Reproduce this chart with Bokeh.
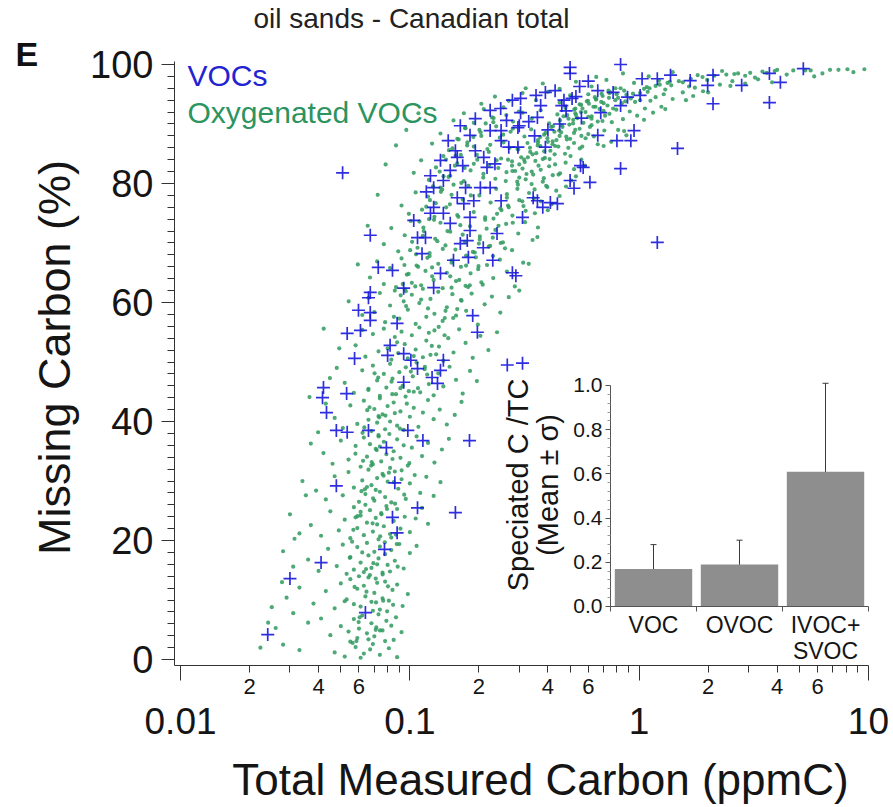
import math
from bokeh.plotting import figure
from bokeh.models import (LogAxis, LinearAxis, FixedTicker, Range1d, Label, Whisker,
                          TeeHead, ColumnDataSource, PrintfTickFormatter, LinearScale)
from bokeh.embed import file_html
from bokeh.resources import INLINE

FONT = "Liberation Sans"
INK = "#151515"

# ---------------- data: VOCs (blue crosses) ----------------
voc_x = [0.024, 0.030, 0.041, 0.064, 0.0775, 0.088, 0.084, 0.108, 0.158, 0.0478,
         0.086, 0.0478, 0.0533, 0.066, 0.079, 0.098, 0.114, 0.182, 0.0433, 0.0416,
         0.042, 0.053, 0.094, 0.125, 0.132, 0.266, 0.31, 0.0574, 0.080, 0.094,
         0.108, 0.140, 0.136, 0.101, 0.082, 0.0533, 0.0609, 0.088, 0.0672, 0.0672,
         0.0597, 0.066, 0.0672, 0.094, 0.0728, 0.084, 0.113, 0.0672, 0.108, 0.117,
         0.0509, 0.188, 0.197, 0.28, 0.29, 0.127, 0.136, 0.18, 0.23, 0.209,
         0.178, 0.24, 0.183, 0.15, 0.104, 0.123, 0.14, 0.127, 0.14, 0.161,
         0.19, 0.175, 0.224, 0.25, 0.345, 0.38, 0.217, 0.147, 0.224, 0.296,
         0.36, 0.25, 0.296, 0.118, 0.15, 0.172, 0.127, 0.161, 0.21, 0.235,
         0.203, 0.183, 0.166, 0.155, 0.31, 0.36, 0.41, 0.44, 0.50, 0.555,
         0.61, 0.52, 0.50, 0.50, 0.83, 1.03, 1.20, 1.37, 1.67, 2.1,
         1.99, 2.8, 2.1, 3.7, 4.13, 3.7, 5.2, 0.66, 0.77, 0.89,
         0.51, 0.47, 0.53, 0.46, 0.33, 0.30, 0.25, 0.27, 0.39, 0.95,
         0.66, 0.80, 0.92, 1.47, 0.57, 0.83, 1.20, 0.166, 0.193, 0.224,
         0.249, 0.28, 0.304, 0.355, 0.39, 0.43, 0.372, 0.304, 0.264, 0.183,
         0.158, 0.136, 0.123, 0.17, 0.193, 0.68, 0.83, 1.01, 0.55, 0.60,
         0.48, 0.56, 0.45, 0.40, 0.35]
voc_y = [4.2, 13.6, 16.3, 7.9, 18.5, 21.3, 23.9, 25.5, 24.7, 29.2,
         29.7, 38.5, 38.2, 38.5, 35.6, 38.5, 36.8, 36.8, 41.5, 44.0,
         45.7, 44.7, 46.6, 47.4, 46.4, 49.5, 49.8, 50.6, 51.1, 51.4,
         48.9, 50.3, 48.6, 50.3, 52.8, 54.8, 55.3, 56.5, 57.0, 58.3,
         58.7, 60.8, 61.7, 62.4, 65.9, 65.4, 68.2, 71.3, 70.9, 70.9,
         81.8, 57.8, 55.0, 65.0, 64.5, 62.5, 64.9, 67.6, 67.1, 69.2,
         70.4, 71.6, 72.1, 73.3, 73.8, 75.0, 75.0, 79.3, 80.5, 77.6,
         77.1, 79.3, 79.3, 77.1, 77.6, 76.0, 82.7, 87.2, 88.9, 89.4,
         91.1, 87.2, 86.1, 78.6, 82.2, 76.6, 76.0, 84.4, 84.4, 83.3,
         79.3, 74.3, 69.9, 67.1, 74.3, 77.1, 76.8, 76.6, 80.5, 83.0,
         80.2, 79.2, 99.5, 98.5, 100.0, 97.6, 97.6, 98.2, 97.3, 98.2,
         96.5, 96.5, 93.4, 98.5, 97.0, 93.6, 99.3, 95.6, 95.3, 94.5,
         94.3, 94.0, 94.6, 93.1, 90.4, 89.7, 88.9, 86.1, 86.1, 88.9,
         88.1, 87.2, 87.2, 85.9, 82.7, 82.5, 70.1, 89.7, 90.9, 92.3,
         92.6, 94.0, 94.3, 94.8, 95.3, 95.6, 93.1, 91.9, 90.6, 88.1,
         85.5, 83.9, 81.3, 83.0, 85.5, 91.9, 93.1, 94.8, 96.3, 97.2,
         92.2, 91.0, 90.0, 89.0, 88.0]

# ---------------- data: oxygenated VOCs (green dots) ----------------
ovoc_x = [
    0.047, 0.052, 0.058, 0.063, 0.069, 0.074, 0.081, 0.088, 0.055, 0.066, 0.078, 0.028, 0.033, 0.061,
    0.045, 0.050, 0.054, 0.057, 0.060, 0.062, 0.065, 0.068, 0.071, 0.073, 0.076, 0.079, 0.083, 0.087,
    0.092, 0.041, 0.026, 0.031, 0.036, 0.059, 0.070, 0.085,
    0.038, 0.043, 0.047, 0.050, 0.053, 0.055, 0.057, 0.059, 0.061, 0.063, 0.064, 0.066, 0.068, 0.070,
    0.072, 0.074, 0.076, 0.078, 0.081, 0.084, 0.088, 0.093, 0.098, 0.029, 0.033, 0.025, 0.060, 0.069,
    0.052, 0.071,
    0.036, 0.040, 0.044, 0.048, 0.051, 0.053, 0.055, 0.057, 0.059, 0.061, 0.063, 0.065, 0.066, 0.068,
    0.070, 0.072, 0.074, 0.076, 0.078, 0.080, 0.083, 0.086, 0.090, 0.094, 0.100, 0.107, 0.028, 0.031,
    0.056, 0.067, 0.073, 0.062,
    0.037, 0.041, 0.045, 0.049, 0.052, 0.055, 0.057, 0.059, 0.061, 0.063, 0.065, 0.067, 0.069, 0.071,
    0.073, 0.075, 0.077, 0.079, 0.082, 0.085, 0.088, 0.091, 0.095, 0.100, 0.106, 0.113, 0.120, 0.030,
    0.033, 0.064, 0.072, 0.083, 0.058,
    0.039, 0.043, 0.047, 0.051, 0.054, 0.057, 0.060, 0.062, 0.064, 0.066, 0.068, 0.070, 0.072, 0.074,
    0.076, 0.078, 0.080, 0.083, 0.086, 0.089, 0.092, 0.096, 0.100, 0.105, 0.111, 0.118, 0.127, 0.136,
    0.034, 0.071, 0.081, 0.065,
    0.042, 0.046, 0.050, 0.054, 0.058, 0.061, 0.063, 0.065, 0.067, 0.069, 0.071, 0.073, 0.075, 0.077,
    0.079, 0.082, 0.085, 0.088, 0.091, 0.094, 0.098, 0.102, 0.107, 0.113, 0.120, 0.128, 0.138, 0.148,
    0.037, 0.074, 0.084,
    0.047, 0.051, 0.055, 0.059, 0.063, 0.066, 0.068, 0.070, 0.072, 0.074, 0.076, 0.078, 0.080, 0.082,
    0.085, 0.088, 0.091, 0.094, 0.097, 0.100, 0.104, 0.109, 0.114, 0.120, 0.127, 0.135, 0.145, 0.157,
    0.168, 0.043, 0.086, 0.073,
    0.052, 0.057, 0.062, 0.066, 0.069, 0.072, 0.074, 0.077, 0.079, 0.082, 0.084, 0.087, 0.090, 0.093,
    0.096, 0.099, 0.103, 0.107, 0.111, 0.116, 0.121, 0.127, 0.133, 0.140, 0.149, 0.159, 0.170, 0.183,
    0.196, 0.048, 0.091, 0.101,
    0.058, 0.064, 0.069, 0.073, 0.077, 0.080, 0.083, 0.086, 0.089, 0.092, 0.095, 0.098, 0.102, 0.106,
    0.110, 0.114, 0.118, 0.123, 0.128, 0.134, 0.140, 0.147, 0.155, 0.164, 0.175, 0.188, 0.203, 0.220,
    0.240, 0.104, 0.121, 0.088, 0.062,
    0.062, 0.066, 0.070, 0.074, 0.078, 0.082, 0.086, 0.090, 0.094, 0.098, 0.102, 0.106, 0.110, 0.114,
    0.118, 0.123, 0.128, 0.133, 0.139, 0.145, 0.152, 0.159, 0.167, 0.176, 0.186, 0.198, 0.212, 0.228,
    0.248, 0.270, 0.120, 0.142, 0.096,
    0.067, 0.072, 0.077, 0.082, 0.087, 0.092, 0.097, 0.102, 0.107, 0.112, 0.117, 0.122, 0.127, 0.133,
    0.139, 0.145, 0.152, 0.159, 0.167, 0.175, 0.184, 0.194, 0.205, 0.217, 0.231, 0.247, 0.265, 0.287,
    0.312, 0.150, 0.125, 0.176, 0.095,
    0.077, 0.083, 0.089, 0.095, 0.101, 0.108, 0.115, 0.122, 0.129, 0.136, 0.143, 0.150, 0.158, 0.166,
    0.174, 0.183, 0.192, 0.202, 0.213, 0.224, 0.236, 0.249, 0.263, 0.279, 0.297, 0.318, 0.343, 0.362,
    0.200, 0.230, 0.170, 0.260,
    0.092, 0.099, 0.106, 0.113, 0.120, 0.128, 0.136, 0.144, 0.152, 0.161, 0.170, 0.180, 0.190, 0.201,
    0.213, 0.225, 0.238, 0.251, 0.265, 0.280, 0.296, 0.313, 0.331, 0.351, 0.373, 0.398, 0.415, 0.435,
    0.450, 0.270, 0.300, 0.240, 0.320, 0.350,
    0.104, 0.112, 0.121, 0.130, 0.140, 0.150, 0.161, 0.172, 0.184, 0.196, 0.209, 0.222, 0.236, 0.250,
    0.264, 0.279, 0.294, 0.310, 0.327, 0.345, 0.364, 0.384, 0.405, 0.428, 0.452, 0.478, 0.506, 0.520,
    0.560, 0.530, 0.300, 0.340, 0.380, 0.420, 0.280, 0.320,
    0.125, 0.136, 0.148, 0.161, 0.175, 0.190, 0.205, 0.221, 0.238, 0.256, 0.275, 0.295, 0.316, 0.338,
    0.361, 0.385, 0.410, 0.436, 0.463, 0.491, 0.520, 0.551, 0.584, 0.620, 0.660, 0.705, 0.755, 0.810,
    0.880, 0.400, 0.450, 0.500, 0.550, 0.430, 0.370, 0.600,
    0.155, 0.172, 0.190, 0.210, 0.232, 0.256, 0.282, 0.310, 0.340, 0.372, 0.405, 0.440, 0.477, 0.516,
    0.557, 0.600, 0.645, 0.692, 0.742, 0.795, 0.850, 0.910, 0.980, 1.06, 1.15, 1.25, 0.620, 0.700,
    0.530, 0.760,
    0.205, 0.235, 0.270, 0.310, 0.355, 0.400, 0.450, 0.500, 0.550, 0.600, 0.650, 0.700, 0.750, 0.810,
    0.870, 0.940, 1.01, 1.09, 1.18, 1.28, 1.40, 1.55, 1.72, 1.90, 0.880, 0.960, 1.12,
    0.320, 0.380, 0.450, 0.530, 0.620, 0.720, 0.830, 0.950, 1.08, 1.22, 1.38, 1.55, 1.75, 1.98,
    2.25, 2.55, 2.90, 3.30, 3.80, 1.30, 1.65,
    0.65, 0.85, 1.10, 1.40, 1.80, 2.30, 2.90, 3.60, 4.40, 5.30, 6.30, 7.40, 8.60, 9.60,
    5.80, 4.00, 3.20, 2.60,
    0.0585, 0.0712, 0.0644, 0.0803, 0.0567, 0.0691, 0.0778, 0.0625, 0.0862, 0.0735, 0.0659, 0.0921,
    0.0814, 0.0702, 0.0958, 0.0598, 0.0671, 0.0752, 0.0547, 0.0885, 0.0633, 0.0768, 0.0832, 0.0717,
    0.0615, 0.0905, 0.0796, 0.0688, 0.0574, 0.0741, 0.0652, 0.0869, 0.0995, 0.1040, 0.0728, 0.0610,
    0.0845, 0.0678, 0.0761, 0.0945,
    0.0852, 0.0931, 0.1003, 0.1087, 0.1146, 0.1224, 0.1318, 0.1402, 0.1495, 0.1583, 0.1677, 0.1782,
    0.1901, 0.2035, 0.2178, 0.2312, 0.2467, 0.2634, 0.2811, 0.2987, 0.0963, 0.1056, 0.1192, 0.1275,
    0.1366, 0.1459, 0.1551, 0.1628, 0.1734, 0.1846, 0.1968, 0.2093, 0.2241, 0.2389, 0.2553, 0.2722,
    0.1120, 0.1251, 0.1392, 0.1521,
    0.1610, 0.1795, 0.1993, 0.2207, 0.2436, 0.2681, 0.2944, 0.3226, 0.3528, 0.3851, 0.4197, 0.4567,
    0.4962, 0.5384, 0.5836, 0.6318, 0.6834, 0.7385, 0.7975, 0.8605, 0.2079, 0.2305, 0.2546, 0.2811,
    0.3093, 0.3397, 0.3722, 0.4069, 0.4441, 0.4838, 0.5263, 0.5717, 0.6203, 0.6722, 0.7277, 0.7869,
    0.2650, 0.3000, 0.3350, 0.3800, 0.4300, 0.4750, 0.5200, 0.5600, 0.6100, 0.6600, 0.7100, 0.7700,
    0.8400, 0.9200, 1.0100, 1.1100, 1.2300, 1.3600, 0.3150, 0.3620, 0.4130, 0.4680, 0.5270, 0.5910,
    0.3480, 0.3930, 0.4450, 0.5020, 0.5650, 0.6350,
    0.0492, 0.0541, 0.0593, 0.0655, 0.0724, 0.0448, 0.0398, 0.0352, 0.0314, 0.0277, 0.0241, 0.0223,
    0.0365, 0.0421, 0.0784, 0.0870, 0.0965, 0.1090, 0.30, 0.33, 0.36, 0.40, 0.48, 0.58,
    0.70, 0.86, 1.05, 1.30, 1.60, 2.0, 2.5,
]
ovoc_y = [
    1.2, 0.5, 2.1, 1.0, 2.6, 0.8, 1.9, 0.4, 3.0, 3.4, 3.1, 2.5, 1.6, 0.3,
    4.1, 5.6, 4.7, 6.8, 5.2, 7.4, 4.4, 6.1, 5.0, 7.6, 4.9, 6.5, 5.7, 7.1,
    4.6, 6.9, 5.3, 7.8, 6.2, 3.6, 3.9, 3.3,
    9.4, 11.5, 8.6, 12.8, 10.1, 13.5, 9.3, 11.9, 8.9, 12.4, 10.6, 13.8, 9.7, 11.2,
    12.9, 8.4, 10.3, 13.1, 9.9, 11.7, 12.6, 9.0, 11.0, 10.4, 12.1, 8.8, 14.0, 8.2,
    9.8, 13.6,
    16.8, 14.9, 18.6, 15.7, 19.3, 14.4, 17.2, 15.1, 18.9, 16.3, 14.7, 19.6, 17.5, 15.4,
    18.1, 16.0, 19.0, 14.6, 17.7, 15.9, 18.4, 16.6, 19.4, 15.3, 17.9, 19.1, 18.2, 15.6,
    19.8, 14.2, 17.0, 18.0,
    22.6, 20.8, 24.9, 21.7, 23.5, 20.4, 25.6, 22.1, 24.2, 20.9, 23.0, 25.1, 21.5, 23.8,
    20.2, 24.6, 22.4, 25.8, 21.1, 23.3, 25.3, 22.0, 24.0, 21.4, 23.7, 25.5, 22.8, 24.4,
    21.2, 26.0, 22.7, 20.5, 23.9,
    28.4, 26.9, 30.8, 27.6, 31.5, 28.9, 26.5, 30.1, 27.8, 31.9, 29.3, 26.7, 30.5, 28.2,
    31.2, 27.3, 29.9, 26.4, 31.6, 28.7, 30.3, 27.0, 29.6, 31.0, 28.0, 30.7, 27.5, 29.8,
    30.0, 28.5, 31.4, 29.0,
    34.7, 32.9, 36.8, 33.6, 35.9, 32.4, 37.3, 34.1, 36.2, 32.8, 35.4, 37.7, 33.3, 36.6,
    34.5, 32.2, 35.0, 37.0, 33.9, 36.0, 32.6, 35.6, 37.5, 34.2, 36.4, 33.1, 35.3, 37.1,
    36.3, 35.8, 33.7,
    40.6, 38.9, 42.7, 39.6, 43.5, 40.3, 38.4, 42.1, 39.8, 43.9, 41.2, 38.7, 42.6, 40.0,
    43.2, 39.3, 41.7, 38.6, 43.0, 40.8, 42.3, 39.1, 41.5, 43.6, 40.4, 42.0, 39.5, 41.1,
    43.3, 43.0, 41.4, 40.9,
    46.5, 44.8, 48.6, 45.5, 49.4, 46.9, 44.3, 48.0, 45.7, 49.7, 47.2, 44.6, 48.3, 46.0,
    49.1, 45.1, 47.6, 49.9, 44.9, 48.8, 46.3, 44.4, 48.1, 45.9, 49.2, 47.0, 44.7, 48.5,
    46.8, 49.0, 45.6, 48.4,
    52.8, 50.9, 54.7, 51.8, 55.6, 52.3, 50.4, 54.2, 51.5, 55.1, 53.0, 50.6, 54.5, 52.1,
    55.8, 50.8, 53.6, 51.2, 55.3, 52.6, 50.2, 54.0, 51.6, 55.5, 53.2, 50.7, 54.4, 52.0,
    55.0, 51.0, 54.9, 53.3, 55.4,
    57.9, 60.8, 58.4, 61.6, 56.7, 59.5, 62.0, 57.3, 60.2, 58.8, 61.3, 56.4, 59.9, 62.3,
    57.6, 60.6, 58.1, 61.8, 56.9, 59.2, 62.5, 57.8, 60.4, 58.6, 61.5, 56.3, 59.7, 61.0,
    58.3, 60.9, 59.0, 57.4, 61.9,
    64.2, 66.9, 63.1, 65.8, 62.6, 67.4, 64.7, 63.3, 66.2, 62.9, 65.3, 67.8, 63.8, 66.5,
    62.4, 65.0, 67.1, 63.6, 66.0, 62.8, 64.9, 67.6, 63.4, 66.3, 64.1, 67.2, 65.2, 62.7,
    66.7, 64.4, 65.9, 67.9, 62.2,
    69.8, 72.5, 68.6, 71.3, 73.7, 69.2, 72.0, 68.3, 70.7, 73.4, 69.6, 71.9, 68.9, 73.0,
    70.2, 72.8, 68.4, 71.1, 73.9, 69.5, 72.2, 70.0, 73.2, 68.8, 71.6, 73.5, 70.5, 72.6,
    69.9, 70.9, 71.4, 69.1,
    76.3, 74.9, 78.5, 75.6, 77.8, 74.4, 79.3, 76.0, 78.1, 74.7, 77.3, 79.6, 75.2, 78.0,
    74.3, 76.8, 79.1, 75.5, 77.6, 74.6, 79.8, 76.2, 78.4, 75.0, 77.0, 79.4, 76.5, 78.8,
    77.9, 76.0, 77.2, 74.9, 75.4, 79.0,
    81.8, 83.9, 80.6, 82.7, 84.6, 81.3, 83.4, 80.4, 82.2, 84.8, 81.0, 83.1, 80.8, 84.2,
    81.9, 83.7, 80.3, 82.5, 84.4, 81.5, 83.0, 80.9, 82.9, 84.9, 81.7, 83.5, 80.5, 82.4,
    84.0, 81.2, 83.2, 82.0, 84.1, 81.4, 82.1, 80.7,
    86.7, 88.4, 85.6, 87.5, 89.3, 86.2, 88.0, 85.3, 89.6, 86.9, 88.7, 85.8, 87.9, 89.1,
    86.4, 88.2, 85.5, 87.3, 89.5, 86.0, 88.5, 85.9, 87.6, 89.8, 86.6, 88.9, 87.0, 89.0,
    88.1, 87.0, 88.0, 87.5, 89.2, 86.3, 87.8, 88.3,
    90.6, 91.8, 90.2, 92.5, 91.0, 92.8, 90.4, 91.9, 90.9, 92.3, 90.1, 91.6, 92.7, 90.7,
    92.0, 91.2, 92.9, 90.5, 91.7, 92.4, 90.8, 92.1, 91.4, 92.6, 91.9, 92.9, 90.9, 92.2,
    91.5, 90.3,
    93.4, 94.6, 93.9, 95.2, 94.0, 95.4, 93.6, 94.8, 93.3, 95.0, 94.2, 93.5, 95.3, 94.4,
    93.8, 95.1, 94.0, 95.4, 94.5, 95.0, 94.2, 95.3, 94.7, 95.5, 94.9, 93.7, 93.9,
    96.0, 96.8, 95.9, 97.1, 96.3, 97.4, 96.0, 96.9, 96.2, 97.3, 96.5, 97.0, 96.1, 97.4,
    96.6, 97.2, 96.8, 97.5, 97.0, 95.8, 96.3,
    97.9, 98.5, 98.0, 98.7, 98.2, 98.9, 98.1, 98.6, 98.3, 99.0, 98.5, 99.1, 98.7, 99.2,
    98.0, 99.1, 97.8, 98.4,
    3.1, 9.6, 15.2, 12.3, 21.8, 27.1, 19.7, 33.4, 26.2, 40.7, 45.3, 31.8,
    37.9, 48.1, 44.2, 6.3, 1.7, 24.4, 17.1, 15.6, 39.0, 30.9, 46.7, 35.2,
    28.3, 38.8, 8.1, 22.9, 12.2, 4.9, 41.9, 21.0, 33.0, 45.0, 47.4, 24.8,
    9.2, 32.6, 14.3, 27.7,
    57.6, 63.1, 68.8, 66.0, 72.6, 77.2, 70.3, 81.2, 76.5, 84.7, 80.1, 86.9,
    83.3, 88.6, 85.8, 90.3, 87.7, 91.5, 89.2, 92.1, 59.4, 62.7, 67.5, 73.9,
    78.6, 72.0, 79.8, 74.4, 82.6, 78.0, 84.0, 81.6, 86.5, 83.9, 88.2, 86.0,
    60.5, 64.4, 69.0, 66.7,
    58.9, 62.6, 66.1, 69.4, 72.9, 76.3, 79.1, 81.6, 83.8, 85.4, 87.1, 88.6,
    89.9, 91.0, 92.0, 92.9, 93.7, 94.4, 95.0, 95.6, 63.0, 67.8, 70.1, 73.4,
    77.0, 79.9, 82.3, 84.1, 86.2, 87.4, 89.0, 90.2, 91.3, 92.5, 93.1, 94.0,
    78.2, 81.0, 85.3, 80.3, 83.2, 85.0, 86.8, 88.0, 89.5, 90.4, 91.4, 92.6,
    93.5, 94.3, 95.2, 96.0, 96.6, 97.1, 84.0, 86.9, 89.5, 91.3, 92.6, 93.8,
    77.5, 79.6, 81.5, 84.6, 86.2, 87.9,
    52.3, 60.2, 66.4, 72.9, 78.1, 47.3, 38.2, 27.6, 20.3, 13.0, 6.2, 2.0,
    44.1, 55.6, 83.2, 86.4, 89.0, 91.8, 62.0, 66.5, 71.0, 75.5, 79.5, 83.0,
    86.3, 88.8, 90.7, 92.5, 94.0, 95.3, 96.4,
]
# further OVOC points in the densest parts of the cloud
ovoc2_x = [
    0.262, 0.288, 0.317, 0.343, 0.371, 0.398, 0.427, 0.459, 0.492, 0.527, 0.566, 0.604, 0.648, 0.693,
    0.741, 0.279, 0.306, 0.334, 0.362, 0.391, 0.421, 0.452, 0.486, 0.521, 0.559, 0.598, 0.641, 0.686,
    0.735, 0.788, 0.243, 0.268, 0.297, 0.326, 0.356, 0.388, 0.419, 0.448, 0.481, 0.515,
    0.0912, 0.0988, 0.1064, 0.1139, 0.1213, 0.1297, 0.1384, 0.1476, 0.1572, 0.1669, 0.1778, 0.1893,
    0.2011, 0.2142, 0.2281, 0.0947, 0.1023, 0.1101, 0.1179, 0.1262, 0.1349, 0.1438, 0.1534, 0.1633,
    0.1741,
    0.1085, 0.1163, 0.1247, 0.1336, 0.1431, 0.1533, 0.1642, 0.1759, 0.1884, 0.2018, 0.2162, 0.2316,
    0.2481, 0.1190, 0.1302, 0.1417, 0.1545, 0.1681, 0.1827, 0.1986,
    0.0563, 0.0604, 0.0647, 0.0693, 0.0742, 0.0795, 0.0851, 0.0579, 0.0622, 0.0667, 0.0714, 0.0765,
    0.0819, 0.0877, 0.0591, 0.0636, 0.0682, 0.0731, 0.0783, 0.0838,
    1.05, 1.18, 1.33, 1.49, 1.68, 1.89, 2.13, 2.40, 2.70, 3.05, 3.45, 3.90, 4.70, 5.60, 6.80, 8.10,
]
ovoc2_y = [
    80.4, 82.1, 83.6, 84.9, 86.3, 87.6, 88.7, 89.8, 90.9, 91.8, 92.6, 93.4, 94.1, 94.7,
    95.2, 83.0, 84.4, 86.0, 87.3, 88.5, 89.6, 90.6, 91.5, 92.4, 93.2, 93.9, 94.5, 95.1,
    95.6, 96.0, 82.6, 84.0, 85.7, 86.8, 85.1, 84.3, 86.6, 88.9, 87.9, 90.1,
    61.2, 64.8, 68.1, 71.2, 74.0, 76.7, 79.0, 81.1, 83.0, 84.8, 86.4, 87.8,
    89.0, 90.1, 91.1, 66.3, 70.2, 73.6, 76.1, 79.5, 82.0, 84.0, 85.9, 87.4,
    89.3,
    45.6, 49.2, 52.7, 55.9, 58.6, 61.4, 63.8, 66.2, 68.5, 70.6, 72.4, 74.1,
    75.8, 47.9, 51.3, 54.5, 57.4, 60.3, 62.9, 65.6,
    2.8, 7.1, 11.4, 16.2, 20.7, 25.3, 29.8, 34.6, 38.1, 42.4, 5.4, 9.9,
    14.8, 19.4, 24.1, 28.6, 33.2, 37.5, 41.0, 44.6,
    95.9, 96.4, 96.9, 97.2, 97.6, 97.9, 98.1, 98.3, 98.5, 98.6, 98.8, 98.9, 99.0, 99.0, 99.1, 99.2,
]

# ---------------- data: inset bar chart ----------------
inset_cats = ["VOC", "OVOC", "IVOC+\nSVOC"]
inset_mean = [0.17, 0.19, 0.61]
inset_sigma = [0.11, 0.11, 0.40]

# ---------------- axis tick values ----------------
x_decades = [0.01, 0.1, 1.0, 10.0]
x_decade_labels = ["0.01", "0.1", "1", "10"]
x_minor_mults = [2, 3, 4, 5, 6, 7, 8, 9]
x_labeled_mults = [2, 4, 6]
y_major = [0, 20, 40, 60, 80, 100]
inset_y_major = [0.0, 0.2, 0.4, 0.6, 0.8, 1.0]

# ---------------- layout constants ----------------
W, H = 892, 806
X_LO, X_HI = 0.00941, 10.0      # drawn extent of the x axis
Y_LO, Y_HI = -1.0, 100.5        # drawn extent of the y axis

# the frame spans the whole canvas; axes sit at fixed locations inside it
p = figure(width=W, height=H, x_axis_type="log",
           x_range=Range1d(0.0016396, 12.733), y_range=Range1d(-24.695, 110.751),
           output_backend="svg", toolbar_location=None,
           min_border_left=0, min_border_right=0, min_border_top=0,
           min_border_bottom=0)
p.outline_line_color = None
p.grid.visible = False
p.background_fill_color = "white"
p.border_fill_color = "white"

gx = ovoc_x[:min(len(ovoc_x), len(ovoc_y))] + ovoc2_x[:min(len(ovoc2_x), len(ovoc2_y))]
gy = ovoc_y[:min(len(ovoc_x), len(ovoc_y))] + ovoc2_y[:min(len(ovoc2_x), len(ovoc2_y))]
p.scatter(gx, gy, marker="circle", size=4.2,
          fill_color="#2f9a5e", line_color=None, fill_alpha=0.85)
n_v = min(len(voc_x), len(voc_y))
p.scatter(voc_x[:n_v], voc_y[:n_v], marker="cross", size=13,
          line_color="#1717dc", line_width=1.7, line_alpha=0.9)

AX = "#333333"
# y axis
ya = p.yaxis[0]
ya.fixed_location = X_LO
ya.bounds = (Y_LO, Y_HI)
ya.ticker = FixedTicker(ticks=y_major,
                        minor_ticks=[v for v in range(2, 100, 2) if v not in y_major])
ya.major_tick_out = 13
ya.major_tick_in = 0
ya.minor_tick_out = 7
ya.minor_tick_in = 0
ya.major_label_standoff = 8
ya.major_label_text_font = FONT
ya.major_label_text_font_size = "38px"
ya.major_label_text_color = INK
ya.axis_line_color = AX
ya.major_tick_line_color = AX
ya.minor_tick_line_color = AX

# x axis (line + ticks)
x_minor = [m * d for d in x_decades[:-1] for m in x_minor_mults]
xa = p.xaxis[0]
xa.fixed_location = Y_LO
xa.bounds = (X_LO, X_HI)
xa.ticker = FixedTicker(ticks=x_decades, minor_ticks=x_minor)
xa.major_tick_out = 15
xa.major_tick_in = 0
xa.minor_tick_out = 7
xa.minor_tick_in = 0
xa.major_label_text_color = None
xa.axis_line_color = AX
xa.major_tick_line_color = AX
xa.minor_tick_line_color = AX

# x axis: "2 4 6" labels under minor ticks
x_lab = [m * d for d in x_decades[:-1] for m in x_labeled_mults]
x_lab_txt = [str(m) for d in x_decades[:-1] for m in x_labeled_mults]
xa2 = LogAxis(ticker=FixedTicker(ticks=x_lab, minor_ticks=[]),
              fixed_location=Y_LO, bounds=(X_LO, X_HI),
              axis_line_color=None, major_tick_line_color=None,
              major_tick_out=0, major_tick_in=0, minor_tick_out=0, minor_tick_in=0,
              major_label_overrides=dict(zip(x_lab, x_lab_txt)),
              major_label_text_font=FONT, major_label_text_font_size="22px",
              major_label_text_color=INK, major_label_standoff=14)
p.add_layout(xa2, "below")

# x axis: decade labels
xa3 = LogAxis(ticker=FixedTicker(ticks=x_decades, minor_ticks=[]),
              fixed_location=Y_LO, bounds=(X_LO, X_HI),
              axis_line_color=None, major_tick_line_color=None,
              major_tick_out=0, major_tick_in=0, minor_tick_out=0, minor_tick_in=0,
              major_label_overrides=dict(zip(x_decades, x_decade_labels)),
              major_label_text_font=FONT, major_label_text_font_size="37px",
              major_label_text_color=INK, major_label_standoff=43)
p.add_layout(xa3, "below")

# axis titles (screen units: x from left edge, y up from bottom edge)
p.add_layout(Label(x=540, y=H - 779, x_units="screen", y_units="screen",
                   text="Total Measured Carbon (ppmC)", text_align="center",
                   text_baseline="middle", text_font=FONT,
                   text_font_size="44px", text_color=INK))
p.add_layout(Label(x=54, y=H - 357, x_units="screen", y_units="screen",
                   text="Missing Carbon (%)", angle=math.pi / 2, text_align="center",
                   text_baseline="middle", text_font=FONT,
                   text_font_size="45px", text_color=INK))

# ---------------- inset ----------------
p.extra_x_ranges = {"ix": Range1d(-6.593, 3.779)}
p.extra_x_scales = {"ix": LinearScale()}
p.extra_y_ranges = {"iy": Range1d(-0.905, 2.7421)}
p.extra_y_scales = {"iy": LinearScale()}
cat_pos = list(range(1, len(inset_cats) + 1))
p.vbar(x=cat_pos, top=inset_mean, bottom=0, width=0.9,
       x_range_name="ix", y_range_name="iy",
       fill_color="#8e8e8e", line_color=None)
err_src = ColumnDataSource(dict(
    x=cat_pos,
    lo=[m - s for m, s in zip(inset_mean, inset_sigma)],
    hi=[m + s for m, s in zip(inset_mean, inset_sigma)]))
p.add_layout(Whisker(base="x", lower="lo", upper="hi", source=err_src,
                     dimension="height", line_color="#3a3a3a", line_width=1,
                     upper_head=TeeHead(size=6, line_color="#3a3a3a", line_width=1),
                     lower_head=TeeHead(size=6, line_color="#3a3a3a", line_width=1),
                     x_range_name="ix", y_range_name="iy"))

iya = LinearAxis(x_range_name="ix", y_range_name="iy", fixed_location=0.5,
                 bounds=(0.0, 1.0),
                 ticker=FixedTicker(ticks=inset_y_major,
                                    minor_ticks=[k * 0.04 for k in range(1, 25) if k % 5]),
                 formatter=PrintfTickFormatter(format="%.1f"),
                 major_tick_out=5, major_tick_in=0, minor_tick_out=3, minor_tick_in=0,
                 major_label_standoff=3, major_label_text_font=FONT,
                 major_label_text_font_size="21px", major_label_text_color=INK,
                 axis_line_color="#555555", major_tick_line_color="#555555",
                 minor_tick_line_color="#999999")
p.add_layout(iya, "left")

ixa = LinearAxis(x_range_name="ix", y_range_name="iy", fixed_location=0.0,
                 bounds=(0.5, 3.5),
                 ticker=FixedTicker(ticks=cat_pos,
                                    minor_ticks=[c - 0.5 for c in cat_pos] + [cat_pos[-1] + 0.5]),
                 major_label_overrides=dict(zip(cat_pos, inset_cats)),
                 major_tick_out=0, major_tick_in=0, minor_tick_out=5, minor_tick_in=0,
                 major_label_standoff=1, major_label_text_font=FONT,
                 major_label_text_font_size="23px", major_label_text_color=INK,
                 major_label_text_line_height=1.0,
                 axis_line_color="#555555", minor_tick_line_color="#555555")
p.add_layout(ixa, "below")

for txt, xx in (("Speciated C /TC", -0.58), ("(Mean \u00b1 \u03c3)", -0.23)):
    p.add_layout(Label(x=xx, y=0.55, x_range_name="ix", y_range_name="iy",
                       text=txt, angle=math.pi / 2, text_align="center",
                       text_baseline="middle", text_font=FONT,
                       text_font_size="29px", text_color=INK))

# ---------------- legend texts, panel letter, header ----------------
p.add_layout(Label(x=187, y=H - 75, x_units="screen", y_units="screen", text="VOCs",
                   text_font=FONT, text_font_size="30px", text_color="#2323d2",
                   text_baseline="middle"))
p.add_layout(Label(x=187, y=H - 112, x_units="screen", y_units="screen",
                   text="Oxygenated VOCs", text_font=FONT, text_font_size="30px",
                   text_color="#2b9460", text_baseline="middle"))
p.add_layout(Label(x=15, y=H - 53, x_units="screen", y_units="screen", text="E",
                   text_font=FONT, text_font_size="34px", text_font_style="bold",
                   text_color="#111111", text_baseline="middle"))
p.add_layout(Label(x=253, y=H - 18, x_units="screen", y_units="screen",
                   text="oil sands - Canadian total", text_font=FONT,
                   text_font_size="28px", text_color="#222222",
                   text_baseline="middle"))

open("out.html", "w").write(file_html(p, INLINE))
